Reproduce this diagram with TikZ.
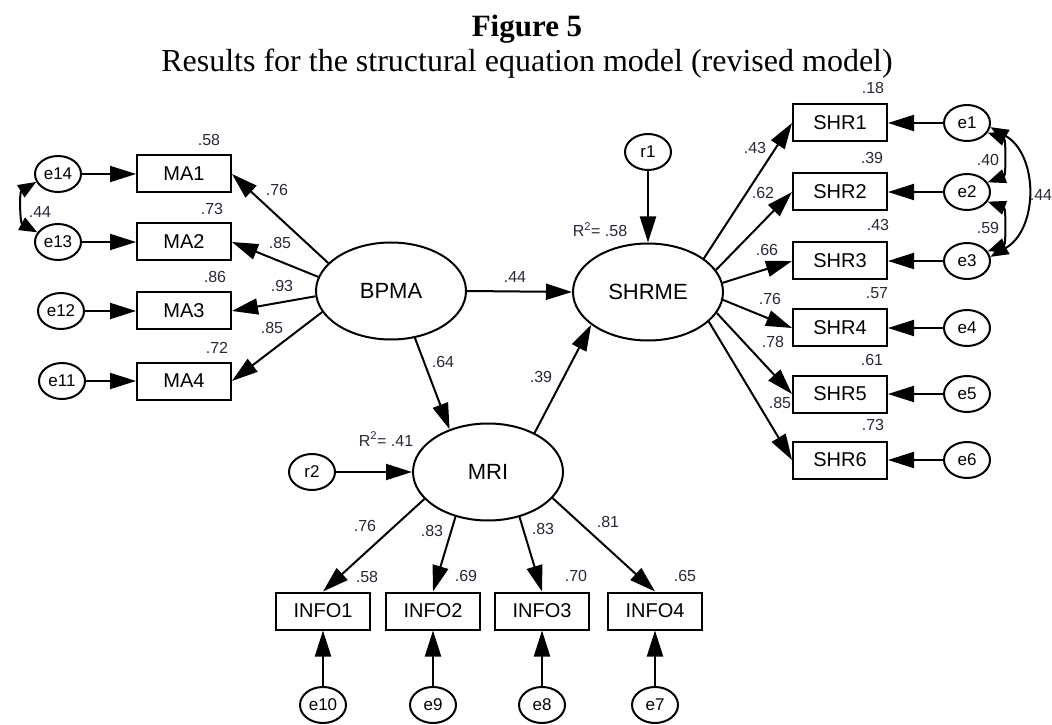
\documentclass[tikz,border=0pt]{standalone}
\usepackage{fontspec}
\setmainfont{Liberation Serif}
\newfontfamily\amosfont{Liberation Sans}
\usepackage{tikz}
\usetikzlibrary{arrows.meta, shapes.geometric}
\definecolor{numgray}{RGB}{40,40,55}

\begin{document}
\begin{tikzpicture}[x=1pt,y=1pt,
  obs/.style={draw,minimum width=94pt,minimum height=37pt,inner sep=0pt,
    font=\amosfont\fontsize{20}{24}\selectfont},
  lat/.style={draw,ellipse,minimum width=150pt,minimum height=97pt,inner sep=0pt,
    font=\amosfont\fontsize{22}{26}\selectfont},
  err/.style={draw,ellipse,minimum width=46pt,minimum height=36pt,inner sep=0pt,
    font=\amosfont\fontsize{17}{20}\selectfont},
  num/.style={inner sep=0pt,text=numgray,font=\amosfont\fontsize{16}{19}\selectfont},
  cov/.style={>={Triangle[length=18pt,width=14pt]},<->},
  ->,>={Triangle[length=26pt,width=16pt]},line width=2pt]
  \useasboundingbox (0,0) rectangle (1052,724);

  % title
  \node[anchor=base,font=\bfseries\fontsize{31}{36}\selectfont] (ttl) at (527,687) {Figure 5};
  \node[anchor=base,font=\fontsize{32}{38}\selectfont] (sub) at (527,652)
    {Results for the structural equation model (revised model)};

  % latent variables
  \node[lat] (BPMA)  at (391,433) {BPMA};
  \node[lat] (SHRME) at (648,432) {SHRME};
  \node[lat] (MRI)   at (488,252) {MRI};
  \node[err] (r1) at (648,572) {r1};
  \node[err] (r2) at (312,252) {r2};

  % BPMA indicators
  \node[obs] (MA1) at (184,550) {MA1};
  \node[obs] (MA2) at (184,482) {MA2};
  \node[obs] (MA3) at (184,413) {MA3};
  \node[obs] (MA4) at (184,343) {MA4};
  \node[err] (e14) at (58,550) {e14};
  \node[err] (e13) at (58,482) {e13};
  \node[err] (e12) at (61,413) {e12};
  \node[err] (e11) at (62,343) {e11};

  % SHRME indicators
  \node[obs] (SHR1) at (840,601) {SHR1};
  \node[obs] (SHR2) at (840,532) {SHR2};
  \node[obs] (SHR3) at (840,463) {SHR3};
  \node[obs] (SHR4) at (840,396) {SHR4};
  \node[obs] (SHR5) at (840,330) {SHR5};
  \node[obs] (SHR6) at (840,264) {SHR6};
  \node[err] (e1) at (967,601) {e1};
  \node[err] (e2) at (967,532) {e2};
  \node[err] (e3) at (967,463) {e3};
  \node[err] (e4) at (967,396) {e4};
  \node[err] (e5) at (967,330) {e5};
  \node[err] (e6) at (967,264) {e6};

  % MRI indicators
  \node[obs] (INFO1) at (323,113) {INFO1};
  \node[obs] (INFO2) at (433,113) {INFO2};
  \node[obs] (INFO3) at (542,113) {INFO3};
  \node[obs] (INFO4) at (655,113) {INFO4};
  \node[err] (e10) at (323,19) {e10};
  \node[err] (e9)  at (433,19) {e9};
  \node[err] (e8)  at (542,19) {e8};
  \node[err] (e7)  at (655,19) {e7};

  % structural paths
  \draw (BPMA.east) -- (SHRME.west);
  \draw (BPMA.-63) -- (MRI.132);
  \draw (MRI.40) -- (SHRME.210);
  \draw (r1.south) -- (SHRME.north);
  \draw (r2.east) -- (MRI.west);

  % loadings
  \draw (BPMA.156) -- (MA1.east); \draw (BPMA.169) -- (MA2.east);
  \draw (BPMA.184) -- (MA3.east); \draw (BPMA.197) -- (MA4.east);
  \draw (SHRME.31) -- (SHR1.west); \draw (SHRME.18) -- (SHR2.west);
  \draw (SHRME.7) -- (SHR3.west);  \draw (SHRME.-6) -- (SHR4.west);
  \draw (SHRME.-17) -- (SHR5.west); \draw (SHRME.-26) -- (SHR6.west);
  \draw (MRI.203) -- (INFO1.north); \draw (MRI.234) -- (INFO2.north);
  \draw (MRI.-55) -- (INFO3.north); \draw (MRI.-22) -- (INFO4.north);

  % errors
  \draw (e14) -- (MA1); \draw (e13) -- (MA2);
  \draw (e12) -- (MA3); \draw (e11) -- (MA4);
  \draw (e1) -- (SHR1); \draw (e2) -- (SHR2); \draw (e3) -- (SHR3);
  \draw (e4) -- (SHR4); \draw (e5) -- (SHR5); \draw (e6) -- (SHR6);
  \draw (e10) -- (INFO1); \draw (e9) -- (INFO2);
  \draw (e8) -- (INFO3); \draw (e7) -- (INFO4);

  % covariances
  \draw[cov] (e14.200) to[bend right=60] (e13.155);
  \draw[cov] (e1.-25) to[bend left=70] (e2.25);
  \draw[cov] (e2.-25) to[bend left=70] (e3.25);
  \draw[cov] (e1.-10) to[out=-30,in=30,looseness=1.1] (e3.10);

  % estimates
  \node[num] (rsq1) at (600,494) {R\textsuperscript{2}= .58};
  \node[num] (rsq2) at (386,285) {R\textsuperscript{2}= .41};
  \node[num] at (515,447) {.44};
  \node[num] at (443,362) {.64};
  \node[num] at (541,347) {.39};
  \node[num] at (209,584) {.58}; \node[num] at (212,515) {.73};
  \node[num] at (215,447) {.86}; \node[num] at (217,376) {.72};
  \node[num] at (277,534) {.76}; \node[num] at (280,481) {.85};
  \node[num] at (282,438) {.93}; \node[num] at (272,396) {.85};
  \node[num] at (40,512) {.44};
  \node[num] at (873,636) {.18}; \node[num] at (872,566) {.39};
  \node[num] at (878,499) {.43}; \node[num] at (877,431) {.57};
  \node[num] at (872,364) {.61}; \node[num] at (873,299) {.73};
  \node[num] at (755,576) {.43}; \node[num] at (763,531) {.62};
  \node[num] at (767,474) {.66}; \node[num] at (770,425) {.76};
  \node[num] at (773,382) {.78}; \node[num] at (780,321) {.85};
  \node[num] at (988,564) {.40}; \node[num] at (988,496) {.59};
  \node[num] at (1041,529) {.44};
  \node[num] at (367,147) {.58}; \node[num] at (466,148) {.69};
  \node[num] at (576,148) {.70}; \node[num] at (685,148) {.65};
  \node[num] at (365,198) {.76}; \node[num] at (432,193) {.83};
  \node[num] at (543,195) {.83}; \node[num] at (608,202) {.81};
\end{tikzpicture}
\end{document}
